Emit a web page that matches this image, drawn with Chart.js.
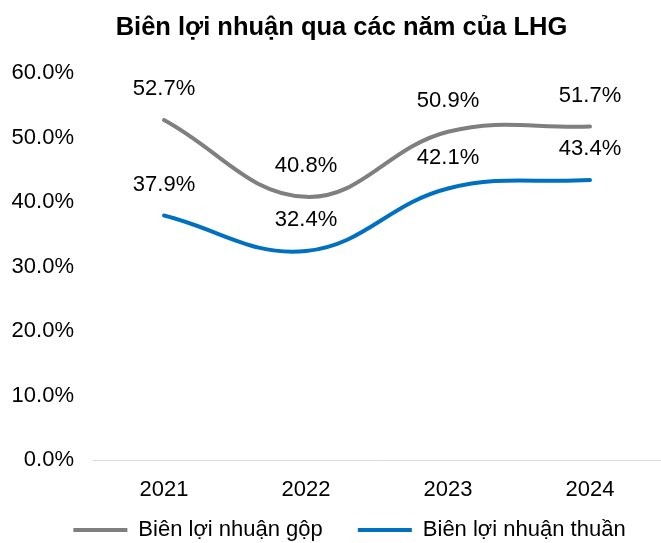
<!DOCTYPE html>
<html>
<head>
<meta charset="utf-8">
<script src="https://cdn.jsdelivr.net/npm/chart.js@4.4.0/dist/chart.umd.min.js"></script>
<style>
  html, body { margin: 0; padding: 0; background: #fff; }
  #wrap { width: 661px; height: 543px; }
</style>
</head>
<body>
<div id="wrap"><canvas id="lineChart"></canvas></div>
<script>
const years = ['2021', '2022', '2023', '2024'];
const grossMargin = [52.7, 40.8, 50.9, 51.7];
const netMargin = [37.9, 32.4, 42.1, 43.4];
const yTicks = [0, 10, 20, 30, 40, 50, 60];

const FONT = '"Liberation Sans", Arial, sans-serif';

// nhãn giá trị trên mỗi điểm
const valueLabels = {
    id: 'valueLabels',
    afterDatasetsDraw(chart) {
        const ctx = chart.ctx;
        ctx.save();
        ctx.font = '22px ' + FONT;
        ctx.fillStyle = '#000';
        ctx.textAlign = 'center';
        ctx.textBaseline = 'middle';
        chart.data.datasets.forEach((ds, i) => {
            chart.getDatasetMeta(i).data.forEach((pt, j) => {
                ctx.fillText(ds.data[j].toFixed(1) + '%', pt.x, pt.y - 31);
            });
        });
        ctx.restore();
    }
};

// đặt tiêu đề và chú thích như bản gốc
const boxPlace = {
    id: 'boxPlace',
    afterLayout(chart) {
        const lg = chart.legend;
        lg.top = 484;
        lg.bottom = 543;
        lg.height = lg.bottom - lg.top;
        lg.left += 19;
        lg.right += 19;
        const tb = chart.titleBlock;
        tb.left += 11;
        tb.right += 11;
    }
};

const ctx = document.getElementById('lineChart').getContext('2d');
new Chart(ctx, {
    type: 'line',
    data: {
        labels: years,
        datasets: [
            {
                label: 'Biên lợi nhuận gộp',
                data: grossMargin,
                borderColor: '#7f7f7f',
                backgroundColor: '#7f7f7f',
                borderWidth: 4,
                borderCapStyle: 'round',
                pointRadius: 0,
                pointStyle: 'line',
                tension: 0.4
            },
            {
                label: 'Biên lợi nhuận thuần',
                data: netMargin,
                borderColor: '#0070c0',
                backgroundColor: '#0070c0',
                borderWidth: 4,
                borderCapStyle: 'round',
                pointRadius: 0,
                pointStyle: 'line',
                tension: 0.4
            }
        ]
    },
    options: {
        responsive: true,
        maintainAspectRatio: false,
        animation: false,
        layout: { padding: 0 },
        plugins: {
            title: {
                display: true,
                text: 'Biên lợi nhuận qua các năm của LHG',
                color: '#000',
                font: { family: FONT, size: 25.5, weight: 'bold' },
                padding: { top: 12.7, bottom: 29.7 }
            },
            legend: {
                display: true,
                position: 'bottom',
                maxHeight: 38,
                labels: {
                    color: '#000',
                    font: { family: FONT, size: 22 },
                    usePointStyle: true,
                    pointStyleWidth: 54,
                    padding: 35
                }
            },
            tooltip: { enabled: false }
        },
        scales: {
            x: {
                offset: true,
                grid: { display: false, drawTicks: false },
                border: { display: true, color: '#d9d9d9', width: 1 },
                afterFit: scale => { scale.height = 45; },
                ticks: {
                    color: '#000',
                    padding: 17,
                    font: { family: FONT, size: 22 }
                }
            },
            y: {
                min: 0,
                max: 60,
                grid: { display: false, drawTicks: false },
                border: { display: false },
                afterBuildTicks: scale => {
                    scale.ticks = yTicks.map(v => ({ value: v }));
                },
                afterFit: scale => { scale.width = 93; },
                ticks: {
                    color: '#000',
                    padding: 19,
                    font: { family: FONT, size: 22 },
                    callback: v => v.toFixed(1) + '%'
                }
            }
        }
    },
    plugins: [valueLabels, boxPlace]
});
</script>
</body>
</html>
